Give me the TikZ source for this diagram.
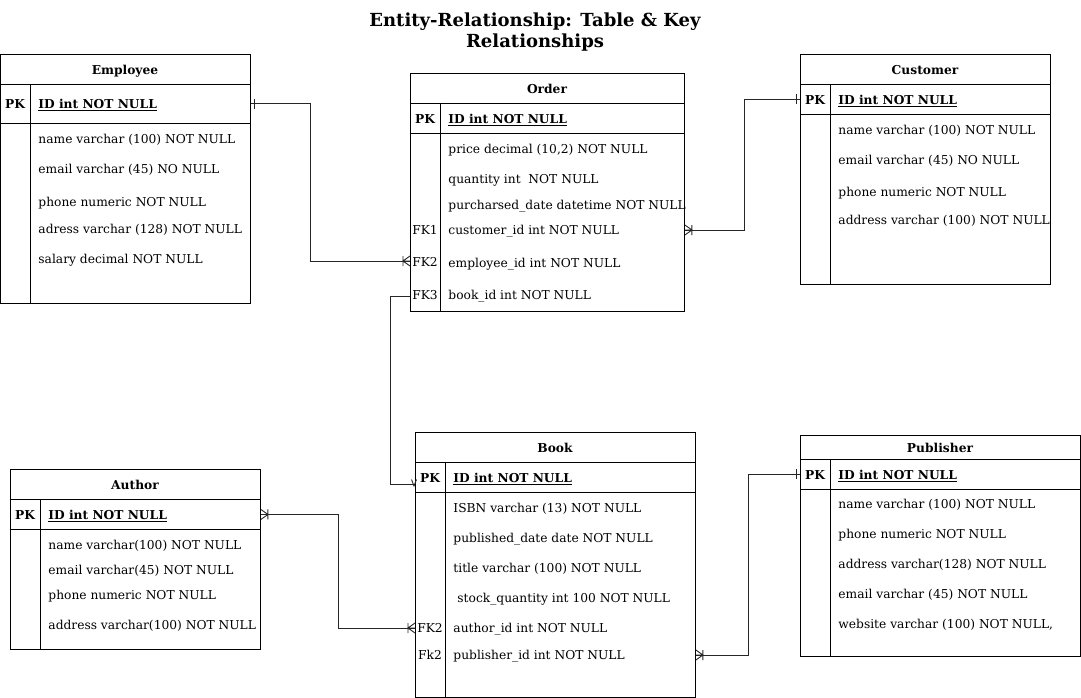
\documentclass[tikz,border=0pt]{standalone}
\usepackage{fontspec}
\setmainfont{DejaVu Serif}
\begin{document}
\begin{tikzpicture}[x=1pt,y=-1pt,
  line width=0.9pt,
  rowtxt/.style={anchor=west, inner sep=0pt, yshift=-1pt, text height=9pt, text depth=0pt, font=\fontsize{12.25}{14}\selectfont},
  keytxt/.style={anchor=center, inner sep=0pt, yshift=-1pt, text height=9pt, text depth=0pt, font=\fontsize{12.25}{14}\selectfont},
  pktxt/.style={keytxt, font=\fontsize{12.25}{14}\selectfont\bfseries},
  idtxt/.style={rowtxt, font=\fontsize{12.25}{14}\selectfont\bfseries},
  hdrtxt/.style={anchor=center, inner sep=0pt, yshift=-1pt, text height=9pt, text depth=0pt, font=\fontsize{12.25}{14}\selectfont\bfseries},
  conn/.style={draw=black!85, line width=0.9pt},
  crowbar/.pic={\draw[conn] (0,-5) -- (-7,0) -- (0,5) (0,0) -- (-7,0) (-7,-5) -- (-7,5);},
  onebar/.pic={\draw[conn] (-4,-5) -- (-4,5);}
]
\useasboundingbox (0,0) rectangle (1081,698);

\newcommand{\ertab}[9]{%
  \node[draw, minimum width=#4pt, minimum height=#5pt, anchor=north west, inner sep=0pt] (#1) at (#2,#3) {};
  \node[inner sep=0pt, minimum width=#4pt, minimum height=#7pt, anchor=north west] (#1pkrow) at (#2,{#3+#6}) {};
  \node[hdrtxt] (#1title) at ({#2+#4/2},{#3+#6/2}) {#8};
  \draw (#2,{#3+#6}) -- ++(#4,0);
  \draw (#2,{#3+#6+#7}) -- ++(#4,0);
  \draw ({#2+30},{#3+#6}) -- ++(0,{#5-#6});
  \node[pktxt] (#1pk) at ({#2+15},{#3+#6+#7/2}) {PK};
  \node[idtxt] (#1id) at ({#2+38},{#3+#6+#7/2}) {\underline{#9}};
}

% Title
\node[align=center, font=\fontsize{18}{21}\selectfont\bfseries, inner sep=0pt] (title) at (535,32) {Entity-Relationship: Table \& Key\\Relationships};

% Employee
\ertab{emp}{0}{54}{250}{249}{30}{39}{Employee}{ID int NOT NULL}
\node[rowtxt] (e1) at (38,138) {name varchar (100) NOT NULL};
\node[rowtxt] (e2) at (38,168) {email varchar (45) NO NULL};
\node[rowtxt] (e3) at (38,201) {phone numeric NOT NULL};
\node[rowtxt] (e4) at (38,228) {adress varchar (128) NOT NULL};
\node[rowtxt] (e5) at (38,258) {salary decimal NOT NULL};

% Order
\ertab{ord}{410}{73}{274}{238}{30}{30}{Order}{ID int NOT NULL}
\node[rowtxt] (o1) at (448,148) {price decimal (10,2) NOT NULL};
\node[rowtxt] (o2) at (448,178) {quantity int\ \ NOT NULL};
\node[rowtxt] (o3) at (448,204) {purcharsed\_date datetime NOT NULL};
\node[rowtxt] (o4) at (448,229) {customer\_id int NOT NULL};
\node[rowtxt] (o5) at (448,262) {employee\_id int NOT NULL};
\node[rowtxt] (o6) at (448,294) {book\_id int NOT NULL};
\node[keytxt] (ofk1) at (425,229) {FK1};
\node[keytxt] (ofk2) at (425,261) {FK2};
\node[keytxt] (ofk3) at (425,294) {FK3};

% Customer
\ertab{cus}{800}{54}{250}{230}{30}{30}{Customer}{ID int NOT NULL}
\node[rowtxt] (c1) at (838,129) {name varchar (100) NOT NULL};
\node[rowtxt] (c2) at (838,159) {email varchar (45) NO NULL};
\node[rowtxt] (c3) at (838,191) {phone numeric NOT NULL};
\node[rowtxt] (c4) at (838,219) {address varchar (100) NOT NULL};

% Author
\ertab{aut}{10}{469}{250}{180}{30}{30}{Author}{ID int NOT NULL}
\node[rowtxt] (a1) at (48,544) {name varchar(100) NOT NULL};
\node[rowtxt] (a2) at (48,569) {email varchar(45) NOT NULL};
\node[rowtxt] (a3) at (48,594) {phone numeric NOT NULL};
\node[rowtxt] (a4) at (48,624) {address varchar(100) NOT NULL};

% Book
\ertab{book}{415}{432}{280}{265}{30}{30}{Book}{ID int NOT NULL}
\node[rowtxt] (b1) at (453,507) {ISBN varchar (13) NOT NULL};
\node[rowtxt] (b2) at (453,537) {published\_date date NOT NULL};
\node[rowtxt] (b3) at (453,567) {title varchar (100) NOT NULL};
\node[rowtxt] (b4) at (457,597) {stock\_quantity int 100 NOT NULL};
\node[rowtxt] (b5) at (453,627) {author\_id int NOT NULL};
\node[rowtxt] (b6) at (453,654) {publisher\_id int NOT NULL};
\node[keytxt] (bfk2) at (430,627) {FK2};
\node[keytxt] (bfk3) at (430,654) {Fk2};

% Publisher
\ertab{pub}{800}{435}{280}{221}{24}{30}{Publisher}{ID int NOT NULL}
\node[rowtxt] (p1) at (838,503) {name varchar (100) NOT NULL};
\node[rowtxt] (p2) at (838,533) {phone numeric NOT NULL};
\node[rowtxt] (p3) at (838,563) {address varchar(128) NOT NULL};
\node[rowtxt] (p4) at (838,593) {email varchar (45) NOT NULL};
\node[rowtxt] (p5) at (838,623) {website varchar (100) NOT NULL,};

% Connectors
\coordinate (bookin) at (415,484);
\coordinate (ordout) at (410,296);
\draw[conn] (emppkrow.east) -- ++(60,0) |- (ord.west |- 0,261);
\pic at (emppkrow.east) [rotate=180] {onebar};
\pic at (ord.west |- 0,261) {crowbar};

\draw[conn] (ord.east |- ofk1) -- ++(60,0) |- (cuspkrow.west);
\pic at (ord.east |- ofk1) [rotate=180] {crowbar};
\pic at (cuspkrow.west) {onebar};

\draw[conn] (ordout) -- ++(-20,0) |- (bookin);
\draw[conn] (411.5,479.5) -- (414,486) -- (416.5,479.5);

\draw[conn] (autpkrow.east) -- ++(78,0) |- (book.west |- 0,628);
\pic at (autpkrow.east) [rotate=180] {crowbar};
\pic at (book.west |- 0,628) {crowbar};

\draw[conn] (book.east |- 0,655) -- ++(53,0) |- (pubpkrow.west);
\pic at (book.east |- 0,655) [rotate=180] {crowbar};
\pic at (pubpkrow.west) {onebar};
\end{tikzpicture}
\end{document}
